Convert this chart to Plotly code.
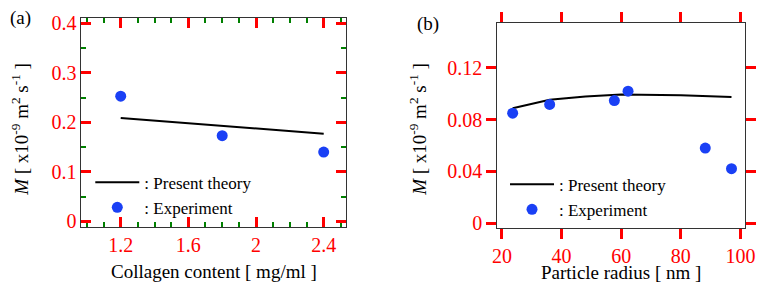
import plotly.graph_objects as go

# Panel (a): collagen content
coll_theory_x = [1.2, 1.8, 2.4]
coll_theory_y = [0.209, 0.193, 0.177]
coll_exp_x = [1.2, 1.8, 2.4]
coll_exp_y = [0.253, 0.173, 0.140]

# Panel (b): particle radius
rad_theory_x = [23.6, 36, 48, 60, 80, 97]
rad_theory_y = [0.0888, 0.0953, 0.0978, 0.0995, 0.0988, 0.0975]
rad_exp_x = [23.6, 36, 57.7, 62.3, 88.2, 97]
rad_exp_y = [0.085, 0.0917, 0.0947, 0.102, 0.058, 0.042]

BLUE = "#1a40f5"
FONT = "Liberation Serif"

fig = go.Figure()
fig.add_trace(go.Scatter(x=coll_theory_x, y=coll_theory_y, mode="lines",
                         line=dict(color="black", width=2), name=": Present theory",
                         xaxis="x", yaxis="y", legend="legend"))
fig.add_trace(go.Scatter(x=coll_exp_x, y=coll_exp_y, mode="markers",
                         marker=dict(color=BLUE, size=11), name=": Experiment",
                         xaxis="x", yaxis="y", legend="legend"))
fig.add_trace(go.Scatter(x=rad_theory_x, y=rad_theory_y, mode="lines",
                         line=dict(color="black", width=2), name=": Present theory",
                         xaxis="x2", yaxis="y2", legend="legend2"))
fig.add_trace(go.Scatter(x=rad_exp_x, y=rad_exp_y, mode="markers",
                         marker=dict(color=BLUE, size=11), name=": Experiment",
                         xaxis="x2", yaxis="y2", legend="legend2"))

W, H = 766, 290
TF = dict(family=FONT, size=20, color="red")

def ax(**kw):
    d = dict(showline=True, linecolor="#333", linewidth=1, mirror="allticks",
             ticks="inside", ticklen=10, tickwidth=3, tickcolor="red",
             showgrid=False, zeroline=False, tickfont=TF)
    d.update(kw)
    return d

MINOR = dict(ticks="inside", ticklen=5, tickcolor="green", tickwidth=2, showgrid=False)

fig.update_layout(
    width=W, height=H, margin=dict(l=0, r=0, t=0, b=0),
    paper_bgcolor="white", plot_bgcolor="white",
    xaxis=ax(domain=[78 / W, 348 / W], range=[0.968, 2.533],
             tick0=1.2, dtick=0.4, anchor="y",
             minor=dict(dtick=0.1, **MINOR)),
    yaxis=ax(domain=[(H - 231) / H, (H - 13) / H], range=[-0.012, 0.412],
             dtick=0.1, tick0=0, anchor="x", minor=dict(dtick=0.05, **MINOR)),
    xaxis2=ax(domain=[502 / W, 755 / W], range=[18.4, 101.6], dtick=20, tick0=0,
              anchor="y2", ticks="outside"),
    yaxis2=ax(domain=[(H - 232) / H, (H - 19) / H], range=[-0.004, 0.1545],
              dtick=0.04, tick0=0, anchor="x2", ticks="outside"),
    legend=dict(x=87 / W, y=1 - 166 / H, xanchor="left", yanchor="top",
                bgcolor="rgba(0,0,0,0)", font=dict(family=FONT, size=17, color="black"),
                tracegroupgap=0, itemwidth=44),
    legend2=dict(x=510 / W, y=1 - 168 / H, xanchor="left", yanchor="top",
                 bgcolor="rgba(0,0,0,0)", font=dict(family=FONT, size=17, color="black"),
                 tracegroupgap=0, itemwidth=44),
    showlegend=True,
)

ytitle = "<i>M</i> [ x10<sup>-9</sup> m<sup>2</sup> s<sup>-1</sup> ]"
TT = dict(family=FONT, size=19, color="black")
ann = [
    dict(text="(a)", x=3 / W, y=1 - 13 / H, xanchor="left", yanchor="middle", font=TT),
    dict(text="(b)", x=418 / W, y=1 - 20 / H, xanchor="left", yanchor="middle", font=TT),
    dict(text="Collagen content [ mg/ml ]", x=213 / W, y=1 - 277 / H, xanchor="center",
         yanchor="middle", font=TT),
    dict(text="Particle radius [ nm ]", x=628 / W, y=1 - 278 / H, xanchor="center",
         yanchor="middle", font=TT),
    dict(text=ytitle, x=15 / W, y=1 - 129 / H, xanchor="center", yanchor="middle",
         textangle=-90, font=TT),
    dict(text=ytitle, x=421 / W, y=1 - 129 / H, xanchor="center", yanchor="middle",
         textangle=-90, font=TT),
]
for a in ann:
    a.update(xref="paper", yref="paper", showarrow=False)
fig.update_layout(annotations=ann)

fig.write_html("out.html", config={"displayModeBar": False},
               post_script="document.body.style.margin='0';")
